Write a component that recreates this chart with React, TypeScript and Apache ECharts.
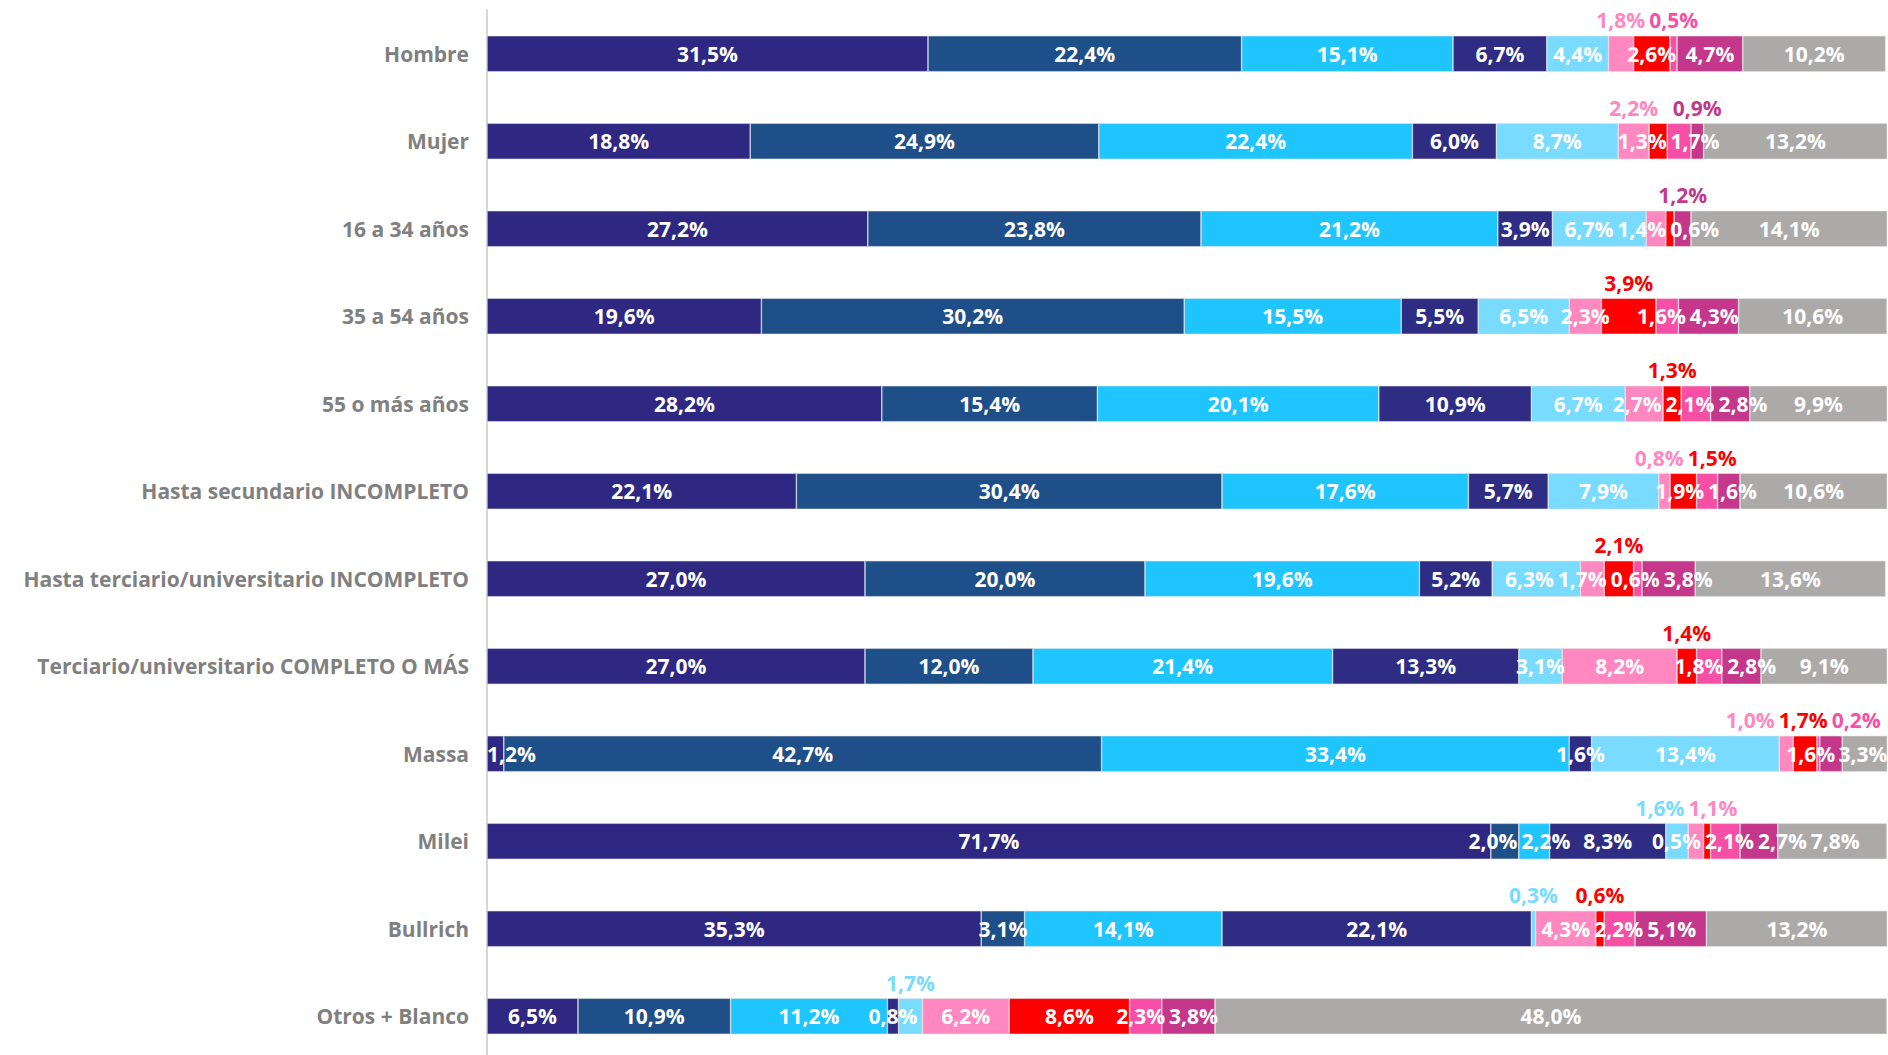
import React, { useEffect, useRef } from "react";
import * as echarts from "echarts";

const categories = [
  "Hombre",
  "Mujer",
  "16 a 34 años",
  "35 a 54 años",
  "55 o más años",
  "Hasta secundario INCOMPLETO",
  "Hasta terciario/universitario INCOMPLETO",
  "Terciario/universitario COMPLETO O MÁS",
  "Massa",
  "Milei",
  "Bullrich",
  "Otros + Blanco",
];

const s0 = [31.5, 18.8, 27.2, 19.6, 28.2, 22.1, 27.0, 27.0, 1.2, 71.7, 35.3, 6.5];
const s1 = [22.4, 24.9, 23.8, 30.2, 15.4, 30.4, 20.0, 12.0, 42.7, 2.0, 3.1, 10.9];
const s2 = [15.1, 22.4, 21.2, 15.5, 20.1, 17.6, 19.6, 21.4, 33.4, 2.2, 14.1, 11.2];
const s3 = [6.7, 6.0, 3.9, 5.5, 10.9, 5.7, 5.2, 13.3, 1.6, 8.3, 22.1, 0.8];
const s4 = [4.4, 8.7, 6.7, 6.5, 6.7, 7.9, 6.3, 3.1, 13.4, 1.6, 0.3, 1.7];
const s5 = [1.8, 2.2, 1.4, 2.3, 2.7, 0.8, 1.7, 8.2, 1.0, 1.1, 4.3, 6.2];
const s6 = [2.6, 1.3, 0.6, 3.9, 1.3, 1.9, 2.1, 1.4, 1.7, 0.5, 0.6, 8.6];
const s7 = [0.5, 1.7, 0, 1.6, 2.1, 1.5, 0.6, 1.8, 0.2, 2.1, 2.2, 2.3];
const s8 = [4.7, 0.9, 1.2, 4.3, 2.8, 1.6, 3.8, 2.8, 1.6, 2.7, 5.1, 3.8];
const s9 = [10.2, 13.2, 14.1, 10.6, 9.9, 10.6, 13.6, 9.1, 3.3, 7.8, 13.2, 48.0];

const seriesValues = [s0, s1, s2, s3, s4, s5, s6, s7, s8, s9];

const colors = [
  "#2e2882",
  "#1f4f88",
  "#1fc5ff",
  "#2e2d83",
  "#78dbff",
  "#ff88c0",
  "#ff0000",
  "#f84fa6",
  "#c4378a",
  "#acaaa9",
];

// per category: indexes of series whose label sits above the bar
const aboveLabels = [
  [5, 7],
  [5, 8],
  [8],
  [6],
  [6],
  [5, 7],
  [6],
  [6],
  [5, 6, 7],
  [4, 5],
  [4, 6],
  [4],
];
// label colour taken from another series ("row-series": colour series)
const aboveColorFrom: Record<string, number> = { "5-7": 6 };

const FONT = "'Open Sans'";
const FONT_SIZE = 21;
const GAP = 4;

const fmt = (v: number) => v.toFixed(1).replace(".", ",") + "%";

function measure(text: string) {
  const c = document.createElement("canvas").getContext("2d")!;
  c.font = `bold ${FONT_SIZE}px ${FONT}`;
  return c.measureText(text).width;
}

type Item = { key: string; c: number; w: number };

// pack overlapping labels in clusters centred on their segments
function resolve(items: Item[], minX: number, maxX: number) {
  let clusters = items.map((it) => [it]);
  const place = (cl: Item[]) => {
    let prefix = 0;
    let sum = 0;
    cl.forEach((it) => {
      sum += it.c - prefix - it.w / 2;
      prefix += it.w + GAP;
    });
    const width = prefix - GAP;
    let start = sum / cl.length;
    start = Math.max(minX, Math.min(maxX - width, start));
    return { start, width };
  };
  let changed = true;
  while (changed) {
    changed = false;
    for (let i = 1; i < clusters.length; i++) {
      const a = place(clusters[i - 1]);
      const b = place(clusters[i]);
      if (a.start + a.width + GAP > b.start) {
        clusters[i - 1] = clusters[i - 1].concat(clusters[i]);
        clusters.splice(i, 1);
        changed = true;
        break;
      }
    }
  }
  const out: Record<string, number> = {};
  clusters.forEach((cl) => {
    const p = place(cl);
    let x = p.start;
    cl.forEach((it) => {
      out[it.key] = x + it.w / 2 - it.c;
      x += it.w + GAP;
    });
  });
  return out;
}

export default function App() {
  const ref = useRef<HTMLDivElement>(null);
  useEffect(() => {
    if (!ref.current) return;
    const chart = echarts.init(ref.current, undefined, { renderer: "svg" });

    const buildSeries = (offsets: Record<string, number>) =>
      seriesValues.map((vals, si) => ({
        type: "bar",
        stack: "total",
        barWidth: 36,
        itemStyle: {
          color: colors[si],
          borderColor: "rgba(228,228,228,0.9)",
          borderWidth: 0.6,
        },
        data: vals.map((v, ci) => {
          const above = aboveLabels[ci].includes(si);
          const key = `${ci}-${si}`;
          const colIdx = aboveColorFrom[key] ?? si;
          return {
            value: v,
            label: {
              show: v > 0,
              position: above ? "top" : "inside",
              distance: 5,
              offset: [offsets[key] || 0, 0],
              color: above ? colors[colIdx] : "#ffffff",
              fontFamily: FONT,
              fontWeight: "bold",
              fontSize: FONT_SIZE,
              formatter: () => fmt(v),
            },
          };
        }),
      }));

    chart.setOption({
      animation: false,
      grid: { left: 487, right: 1, top: 10, height: 1050 },
      xAxis: { type: "value", min: 0, max: 100, show: false },
      yAxis: {
        type: "category",
        inverse: true,
        data: categories,
        axisLine: { show: true, lineStyle: { color: "#d6d6d6", width: 2 } },
        axisTick: { show: false },
        axisLabel: {
          color: "#808080",
          fontFamily: FONT,
          fontWeight: "bold",
          fontSize: FONT_SIZE,
          margin: 18,
        },
      },
      series: buildSeries({}),
    });

    // compute label offsets to avoid collisions, from the axis scale
    const toX = (v: number, ci: number) =>
      (chart.convertToPixel({ xAxisIndex: 0, yAxisIndex: 0 }, [v, ci]) as number[])[0];
    const minX = toX(0, 0);
    const maxX = toX(100, 0);
    const offsets: Record<string, number> = {};
    categories.forEach((_, ci) => {
      const groups: { above: Item[]; inside: Item[] } = { above: [], inside: [] };
      let cum = 0;
      seriesValues.forEach((vals, si) => {
        const v = vals[ci];
        if (v > 0) {
          const item = { key: `${ci}-${si}`, c: toX(cum + v / 2, ci), w: measure(fmt(v)) };
          if (aboveLabels[ci].includes(si)) groups.above.push(item);
          else groups.inside.push(item);
        }
        cum += v;
      });
      Object.assign(offsets, resolve(groups.above, minX, maxX + 1));
      Object.assign(offsets, resolve(groups.inside, minX, maxX + 1));
    });
    chart.setOption({ series: buildSeries(offsets) });

    return () => chart.dispose();
  }, []);
  return (
    <div
      style={{
        position: "absolute",
        left: 0,
        top: 0,
        width: 1888,
        height: 1055,
        overflow: "hidden",
      }}
    >
      <div ref={ref} style={{ width: 1888, height: 1070 }} />
    </div>
  );
}
